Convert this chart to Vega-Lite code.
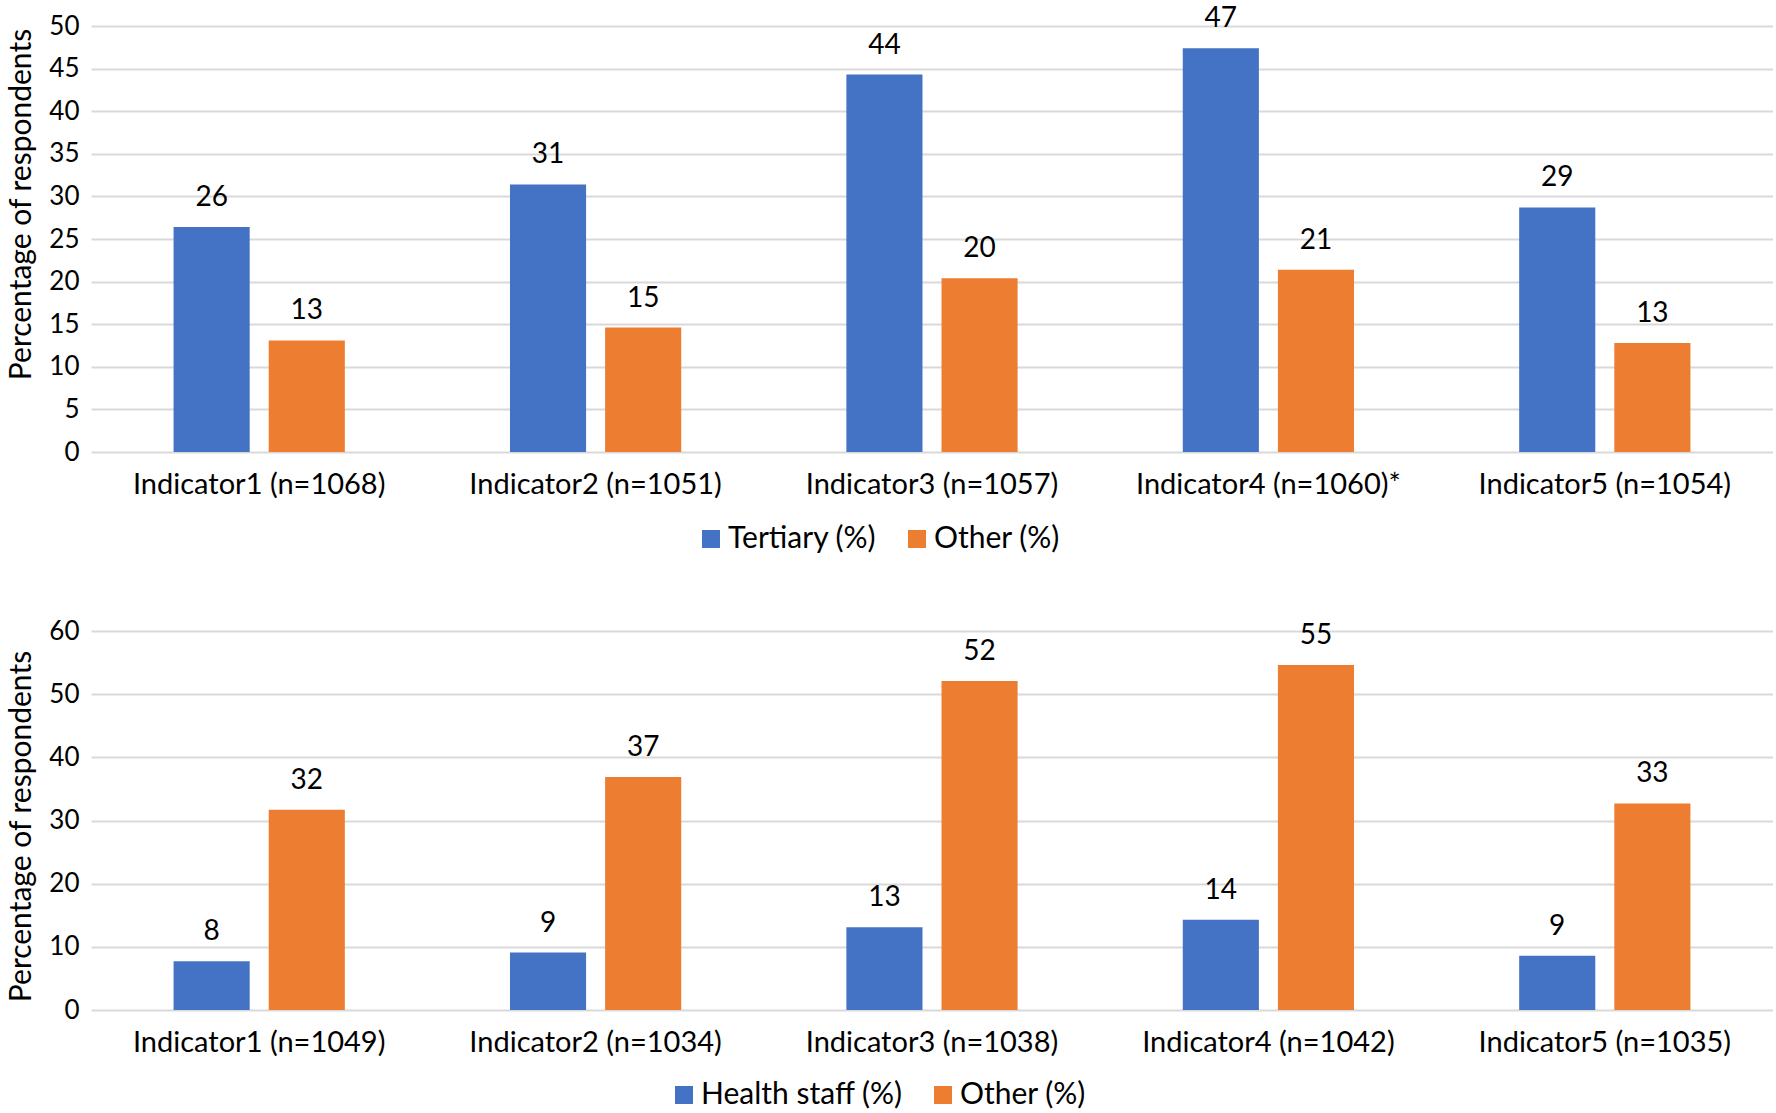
{
  "$schema": "https://vega.github.io/schema/vega-lite/v6.json",
  "padding": {"left": 6, "top": 5, "right": 0, "bottom": 0},
  "background": "#ffffff",
  "config": {
    "view": {"stroke": null},
    "font": "Lato",
    "axis": {
      "labelFont": "Lato", "titleFont": "Lato", "labelColor": "#000000", "titleColor": "#000000",
      "labelFontSize": 26, "titleFontSize": 30, "titleFontWeight": "normal", "labelLimit": 0,
      "gridColor": "#d9d9d9", "gridWidth": 2, "domainColor": "#d9d9d9", "ticks": false
    },
    "axisX": {"labelFontSize": 29},
    "legend": {
      "labelFont": "Lato", "labelFontSize": 30, "labelColor": "#000000", "labelLimit": 0,
      "symbolType": "square", "symbolSize": 324, "symbolStrokeWidth": 0,
      "labelOffset": 2, "columnPadding": 25, "orient": "none", "direction": "horizontal"
    },
    "concat": {"spacing": 64}
  },
  "datasets": {
    "top": [
      {"indicator": "Indicator1 (n=1068)", "group": "Tertiary (%)", "value": 26.4},
      {"indicator": "Indicator1 (n=1068)", "group": "Other (%)", "value": 13.1},
      {"indicator": "Indicator2 (n=1051)", "group": "Tertiary (%)", "value": 31.4},
      {"indicator": "Indicator2 (n=1051)", "group": "Other (%)", "value": 14.6},
      {"indicator": "Indicator3 (n=1057)", "group": "Tertiary (%)", "value": 44.3},
      {"indicator": "Indicator3 (n=1057)", "group": "Other (%)", "value": 20.4},
      {"indicator": "Indicator4 (n=1060)*", "group": "Tertiary (%)", "value": 47.4},
      {"indicator": "Indicator4 (n=1060)*", "group": "Other (%)", "value": 21.4},
      {"indicator": "Indicator5 (n=1054)", "group": "Tertiary (%)", "value": 28.7},
      {"indicator": "Indicator5 (n=1054)", "group": "Other (%)", "value": 12.8}
    ],
    "bottom": [
      {"indicator": "Indicator1 (n=1049)", "group": "Health staff (%)", "value": 7.7},
      {"indicator": "Indicator1 (n=1049)", "group": "Other (%)", "value": 31.7},
      {"indicator": "Indicator2 (n=1034)", "group": "Health staff (%)", "value": 9.1},
      {"indicator": "Indicator2 (n=1034)", "group": "Other (%)", "value": 36.9},
      {"indicator": "Indicator3 (n=1038)", "group": "Health staff (%)", "value": 13.1},
      {"indicator": "Indicator3 (n=1038)", "group": "Other (%)", "value": 52.1},
      {"indicator": "Indicator4 (n=1042)", "group": "Health staff (%)", "value": 14.3},
      {"indicator": "Indicator4 (n=1042)", "group": "Other (%)", "value": 54.6},
      {"indicator": "Indicator5 (n=1035)", "group": "Health staff (%)", "value": 8.6},
      {"indicator": "Indicator5 (n=1035)", "group": "Other (%)", "value": 32.7}
    ]
  },
  "vconcat": [
    {
      "width": 1682, "height": 426,
      "data": {"name": "top"},
      "encoding": {
        "x": {"field": "indicator", "type": "nominal", "sort": null,
              "scale": {"paddingInner": 0, "paddingOuter": 0},
              "axis": {"title": null, "labelAngle": 0, "labelPadding": 18, "domain": false, "grid": false}},
        "xOffset": {"field": "group", "type": "nominal", "sort": ["Tertiary (%)", "Other (%)"],
                    "scale": {"paddingInner": 0.2, "paddingOuter": 0.868}},
        "y": {"field": "value", "type": "quantitative",
              "scale": {"domain": [0, 50], "nice": false},
              "axis": {"values": [0, 5, 10, 15, 20, 25, 30, 35, 40, 45, 50], "title": "Percentage of respondents",
                       "grid": true, "domain": false, "labelPadding": 12, "titlePadding": 12, "titleY": 178}}
      },
      "layer": [
        {"mark": {"type": "bar"},
         "encoding": {"color": {"field": "group", "type": "nominal",
                                "scale": {"domain": ["Tertiary (%)", "Other (%)"], "range": ["#4472c4", "#ed7d31"]},
                                "legend": {"title": null, "legendX": 605, "legendY": 498}}}},
        {"mark": {"type": "text", "baseline": "alphabetic", "dy": -21, "fontSize": 28, "font": "Lato", "fill": "#000000"},
         "encoding": {"text": {"field": "value", "type": "quantitative", "format": ".0f"}}}
      ]
    },
    {
      "width": 1682, "height": 379,
      "data": {"name": "bottom"},
      "encoding": {
        "x": {"field": "indicator", "type": "nominal", "sort": null,
              "scale": {"paddingInner": 0, "paddingOuter": 0},
              "axis": {"title": null, "labelAngle": 0, "labelPadding": 18, "domain": false, "grid": false}},
        "xOffset": {"field": "group", "type": "nominal", "sort": ["Health staff (%)", "Other (%)"],
                    "scale": {"paddingInner": 0.2, "paddingOuter": 0.868}},
        "y": {"field": "value", "type": "quantitative",
              "scale": {"domain": [0, 60], "nice": false},
              "axis": {"values": [0, 10, 20, 30, 40, 50, 60], "title": "Percentage of respondents",
                       "grid": true, "domain": false, "labelPadding": 12, "titlePadding": 12, "titleY": 195}}
      },
      "layer": [
        {"mark": {"type": "bar"},
         "encoding": {"color": {"field": "group", "type": "nominal",
                                "scale": {"domain": ["Health staff (%)", "Other (%)"], "range": ["#4472c4", "#ed7d31"]},
                                "legend": {"title": null, "legendX": 578, "legendY": 449}}}},
        {"mark": {"type": "text", "baseline": "alphabetic", "dy": -21, "fontSize": 28, "font": "Lato", "fill": "#000000"},
         "encoding": {"text": {"field": "value", "type": "quantitative", "format": ".0f"}}}
      ]
    }
  ],
  "resolve": {
    "scale": {"color": "independent", "x": "independent", "y": "independent", "xOffset": "independent"},
    "legend": {"color": "independent"}
  }
}
